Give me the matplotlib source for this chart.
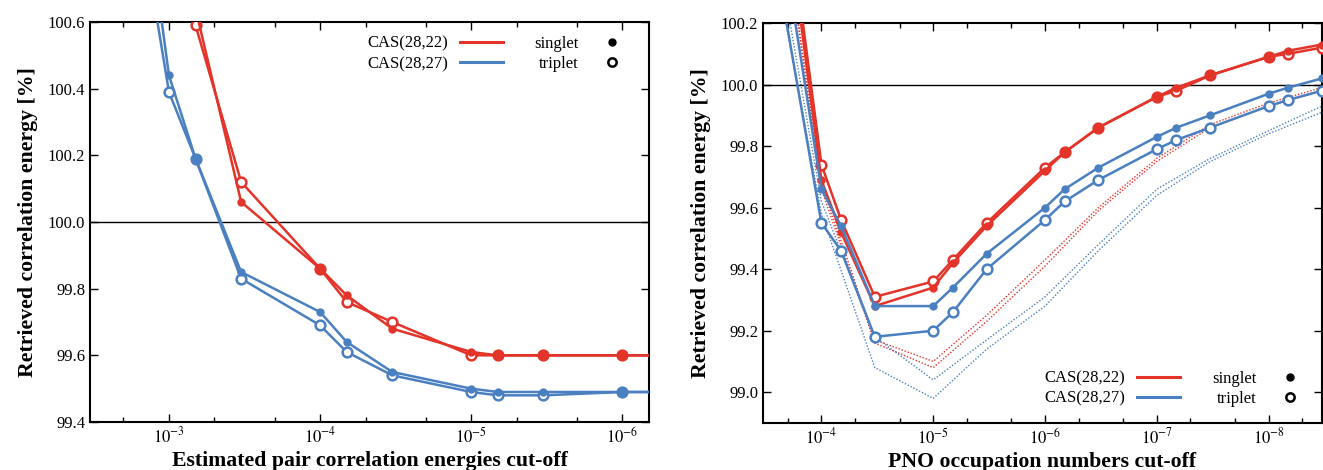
import matplotlib
matplotlib.use('Agg')
import matplotlib.pyplot as plt
import numpy as np
from matplotlib.lines import Line2D
from matplotlib.ticker import LogLocator, FuncFormatter, NullFormatter, MultipleLocator

plt.rcParams['font.family'] = ['Liberation Serif', 'DejaVu Serif']
plt.rcParams['mathtext.fontset'] = 'stix'

RED = '#e3342a'
BLUE = '#4a7fc0'

# ---- left panel data: pair correlation energy cut-off ----
left_x = [3.33e-3, 1e-3, 6.67e-4, 3.33e-4, 1e-4, 6.67e-5, 3.33e-5, 1e-5, 6.67e-6, 3.33e-6, 1e-6, 3.33e-7]
left_red_singlet = [103.0, 101.4, 100.64, 100.06, 99.86, 99.78, 99.68, 99.61, 99.60, 99.60, 99.60, 99.60]
left_red_triplet = [103.0, 101.3, 100.59, 100.12, 99.86, 99.76, 99.70, 99.60, 99.60, 99.60, 99.60, 99.60]
left_blue_singlet = [102.2, 100.44, 100.19, 99.85, 99.73, 99.64, 99.55, 99.50, 99.49, 99.49, 99.49, 99.49]
left_blue_triplet = [101.83, 100.39, 100.19, 99.83, 99.69, 99.61, 99.54, 99.49, 99.48, 99.48, 99.49, 99.49]

# ---- right panel data: PNO occupation number cut-off ----
right_x = [3.33e-4, 1e-4, 6.67e-5, 3.33e-5, 1e-5, 6.67e-6, 3.33e-6, 1e-6, 6.67e-7, 3.33e-7,
           1e-7, 6.67e-8, 3.33e-8, 1e-8, 6.67e-9, 3.33e-9]
right_red_singlet = [101.15, 99.69, 99.52, 99.28, 99.34, 99.42, 99.54, 99.72, 99.78, 99.86,
                     99.96, 99.99, 100.03, 100.09, 100.11, 100.13]
right_red_triplet = [101.19, 99.74, 99.56, 99.31, 99.36, 99.43, 99.55, 99.73, 99.78, 99.86,
                     99.96, 99.98, 100.03, 100.09, 100.10, 100.12]
right_blue_singlet = [100.87, 99.66, 99.54, 99.28, 99.28, 99.34, 99.45, 99.60, 99.66, 99.73,
                      99.83, 99.86, 99.90, 99.97, 99.99, 100.02]
right_blue_triplet = [100.64, 99.55, 99.46, 99.18, 99.20, 99.26, 99.40, 99.56, 99.62, 99.69,
                      99.79, 99.82, 99.86, 99.93, 99.95, 99.98]

# dotted reference curves (no markers)
dot_x = [3.33e-4, 1e-4, 3.33e-5, 1e-5, 3.33e-6, 1e-6, 3.33e-7, 1e-7, 3.33e-8, 1e-8, 3.33e-9]
dot_red_a = [101.0, 99.68, 99.17, 99.10, 99.25, 99.43, 99.60, 99.76, 99.87, 99.94, 99.99]
dot_red_b = [101.0, 99.66, 99.16, 99.08, 99.23, 99.41, 99.59, 99.75, 99.86, 99.93, 99.98]
dot_blue_a = [100.7, 99.62, 99.18, 99.04, 99.17, 99.31, 99.48, 99.66, 99.76, 99.85, 99.93]
dot_blue_b = [100.6, 99.58, 99.08, 98.98, 99.14, 99.28, 99.46, 99.64, 99.75, 99.84, 99.91]

fig = plt.figure(figsize=(13.23, 4.70), dpi=100)
axL = fig.add_axes([90/1323, 1-422/470, 559/1323, 400/470])
axR = fig.add_axes([763/1323, 1-423/470, 559/1323, 400/470])


def plot_pair(ax, x, ys, yt, color):
  # open (triplet) first, filled (singlet) on top where they coincide
  ax.plot(x, yt, '-', color=color, lw=1.8, marker='o', ms=7, mfc='white', mec=color, mew=1.8, zorder=3)
  ax.plot(x, ys, '-', color=color, lw=1.8, marker='o', ms=5, mfc=color, mec=color, zorder=4)


def style_axes(ax):
  ax.set_xscale('log')
  ax.axhline(100.0, color='black', lw=1.0, zorder=2)
  ax.xaxis.set_major_locator(LogLocator(base=10, numticks=20))
  ax.xaxis.set_minor_locator(LogLocator(base=10, subs=(2.0, 5.0), numticks=20))
  ax.xaxis.set_major_formatter(FuncFormatter(lambda v, p: r'$10^{%d}$' % int(round(np.log10(v)))))
  ax.xaxis.set_minor_formatter(NullFormatter())
  ax.yaxis.set_major_locator(MultipleLocator(0.2))
  ax.yaxis.set_major_formatter(FuncFormatter(lambda v, p: f'{v:.1f}'))
  ax.tick_params(which='both', direction='in', top=True, right=True, labelsize=12)
  ax.tick_params(which='major', length=6, width=1.0)
  ax.tick_params(which='minor', length=3.5, width=1.0)
  for s in ax.spines.values():
    s.set_linewidth(1.5)
  ax.set_ylabel('Retrieved correlation energy [%]', fontsize=15.7, fontweight='bold', labelpad=7)


def add_legend(ax, loc, anchor):
  handles = [
    Line2D([], [], color=RED, lw=2.2),
    Line2D([], [], color=BLUE, lw=2.2),
    Line2D([], [], ls='none', marker='o', ms=5, color='black'),
    Line2D([], [], ls='none', marker='o', ms=6, mfc='white', mec='black', mew=1.8),
  ]
  labels = ['CAS(28,22)', 'CAS(28,27)', 'singlet', 'triplet']
  ax.legend(handles, labels, ncol=2, markerfirst=False, frameon=False, loc=loc,
            bbox_to_anchor=anchor, fontsize=12, handlelength=2.6, columnspacing=1.9,
            labelspacing=0.25, handletextpad=0.7)


# left panel
plot_pair(axL, left_x, left_red_singlet, left_red_triplet, RED)
plot_pair(axL, left_x, left_blue_singlet, left_blue_triplet, BLUE)
style_axes(axL)
axL.set_xlim(3.33e-3, 6.67e-7)
axL.set_ylim(99.4, 100.6)
axL.set_xlabel('Estimated pair correlation energies cut-off', fontsize=15.7, fontweight='bold', labelpad=3)
add_legend(axL, 'upper right', (1.0, 1.003))

# right panel
for yv, c in [(dot_red_a, RED), (dot_red_b, RED), (dot_blue_a, BLUE), (dot_blue_b, BLUE)]:
  axR.plot(dot_x, yv, color=c, lw=1.0, ls=(0, (1.0, 1.3)), zorder=2)
plot_pair(axR, right_x, right_red_singlet, right_red_triplet, RED)
plot_pair(axR, right_x, right_blue_singlet, right_blue_triplet, BLUE)
style_axes(axR)
axR.set_xlim(3.33e-4, 3.33e-9)
axR.set_ylim(98.9, 100.2)
axR.set_xlabel('PNO occupation numbers cut-off', fontsize=15.7, fontweight='bold', labelpad=3)
add_legend(axR, 'lower right', (1.008, 0.003))

fig.savefig('out.png', dpi=100)
